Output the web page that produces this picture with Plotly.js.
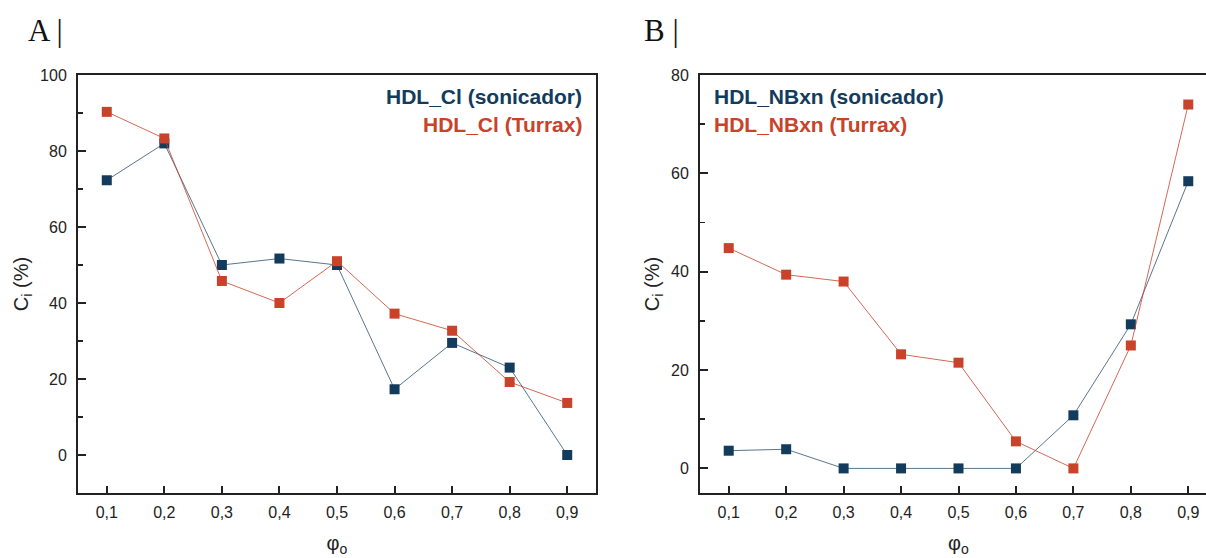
<!DOCTYPE html>
<html>
<head>
<meta charset="utf-8">
<script src="https://cdn.plot.ly/plotly-3.0.1.min.js"></script>
<style>
html, body { margin: 0; padding: 0; overflow: hidden; background: #fff; }
#chart { width: 1230px; height: 558px; }
</style>
</head>
<body>
<div id="chart"></div>
<script>
// Data
const phi = [0.1, 0.2, 0.3, 0.4, 0.5, 0.6, 0.7, 0.8, 0.9];
const clSonicador = [72.3, 82.0, 50.0, 51.7, 50.0, 17.3, 29.5, 23.0, 0.0];
const clTurrax    = [90.3, 83.3, 45.8, 40.0, 51.0, 37.2, 32.7, 19.2, 13.7];
const nbSonicador = [3.6, 3.9, 0.0, 0.0, 0.0, 0.0, 10.8, 29.3, 58.4];
const nbTurrax    = [44.8, 39.4, 38.0, 23.2, 21.5, 5.5, 0.0, 25.0, 74.0];
const legendA = ["HDL_Cl (sonicador)", "HDL_Cl (Turrax)"];
const legendB = ["HDL_NBxn (sonicador)", "HDL_NBxn (Turrax)"];
const panelLabels = ["A |", "B |"];

const BLUE = "#123b5c";
const RED = "#c8432a";
const BLUE_LINE = "rgba(18,59,92,0.7)";
const RED_LINE = "rgba(200,67,42,0.8)";
const W = 1230;

function trace(y, color, lineColor, xa, ya, name) {
  return {
    x: phi, y: y, xaxis: xa, yaxis: ya, name: name,
    type: "scatter", mode: "lines+markers",
    line: { color: lineColor, width: 1 },
    marker: { symbol: "square", size: 10, color: color },
    showlegend: false
  };
}

const data = [
  trace(clSonicador, BLUE, BLUE_LINE, "x", "y", legendA[0]),
  trace(clTurrax, RED, RED_LINE, "x", "y", legendA[1]),
  trace(nbSonicador, BLUE, BLUE_LINE, "x2", "y2", legendB[0]),
  trace(nbTurrax, RED, RED_LINE, "x2", "y2", legendB[1])
];

const tickFont = { family: "Liberation Sans, Arial, sans-serif", size: 16, color: "#222" };
const titleFont = { family: "Liberation Sans, Arial, sans-serif", size: 20, color: "#222" };

function xaxis(domain, anchor) {
  return {
    domain: domain, anchor: anchor, range: [0.05, 0.95],
    tickvals: phi, tickformat: ".1f",
    ticks: "inside", ticklen: 7, tickwidth: 2, tickcolor: "#222",
    showline: true, linewidth: 2, linecolor: "#222", mirror: true,
    showgrid: false, zeroline: false, tickfont: tickFont,
    ticklabelstandoff: 4,
    title: { text: "φ<sub>o</sub>", font: titleFont, standoff: 16 }
  };
}
function yaxis(range, dtick, anchor) {
  return {
    anchor: anchor, domain: [0, 1], range: range,
    dtick: dtick, tick0: 0,
    ticks: "inside", ticklen: 8, tickwidth: 2, tickcolor: "#222",
    minor: { dtick: dtick / 2, tick0: 0, ticks: "inside", ticklen: 5, tickwidth: 1.5, tickcolor: "#222" },
    showline: true, linewidth: 2, linecolor: "#222", mirror: true,
    showgrid: false, zeroline: false, tickfont: tickFont,
    ticklabelstandoff: 6,
    title: { text: "C<sub>i</sub> (%)", font: titleFont, standoff: 6 }
  };
}

const legFont = (c) => ({ family: "Liberation Sans, Arial, sans-serif", size: 21, color: c });

const layout = {
  width: W, height: 558,
  margin: { l: 0, r: 0, t: 75, b: 65 },
  paper_bgcolor: "#fff", plot_bgcolor: "#fff",
  separators: ",.",
  xaxis: xaxis([78 / W, 596 / W], "y"),
  yaxis: yaxis([-10, 100], 20, "x"),
  xaxis2: xaxis([700 / W, 1217 / W], "y2"),
  yaxis2: yaxis([-5, 80], 20, "x2"),
  annotations: [
    { xref: "paper", yref: "paper", x: 584 / W, y: 1 - (97 - 75) / 418, xanchor: "right", yanchor: "middle",
      text: "<b>" + legendA[0] + "</b>", showarrow: false, font: legFont(BLUE) },
    { xref: "paper", yref: "paper", x: 584 / W, y: 1 - (124 - 75) / 418, xanchor: "right", yanchor: "middle",
      text: "<b>" + legendA[1] + "</b>", showarrow: false, font: legFont(RED) },
    { xref: "paper", yref: "paper", x: 712 / W, y: 1 - (97 - 75) / 418, xanchor: "left", yanchor: "middle",
      text: "<b>" + legendB[0] + "</b>", showarrow: false, font: legFont(BLUE) },
    { xref: "paper", yref: "paper", x: 712 / W, y: 1 - (124 - 75) / 418, xanchor: "left", yanchor: "middle",
      text: "<b>" + legendB[1] + "</b>", showarrow: false, font: legFont(RED) },
    { xref: "paper", yref: "paper", x: 26 / W, y: 1 + (75 - 30) / 418, xanchor: "left", yanchor: "middle",
      text: panelLabels[0], showarrow: false,
      font: { family: "Liberation Serif, Times New Roman, serif", size: 31, color: "#111" } },
    { xref: "paper", yref: "paper", x: 642 / W, y: 1 + (75 - 30) / 418, xanchor: "left", yanchor: "middle",
      text: panelLabels[1], showarrow: false,
      font: { family: "Liberation Serif, Times New Roman, serif", size: 31, color: "#111" } }
  ]
};

Plotly.newPlot("chart", data, layout, { displayModeBar: false, staticPlot: true });
</script>
</body>
</html>
